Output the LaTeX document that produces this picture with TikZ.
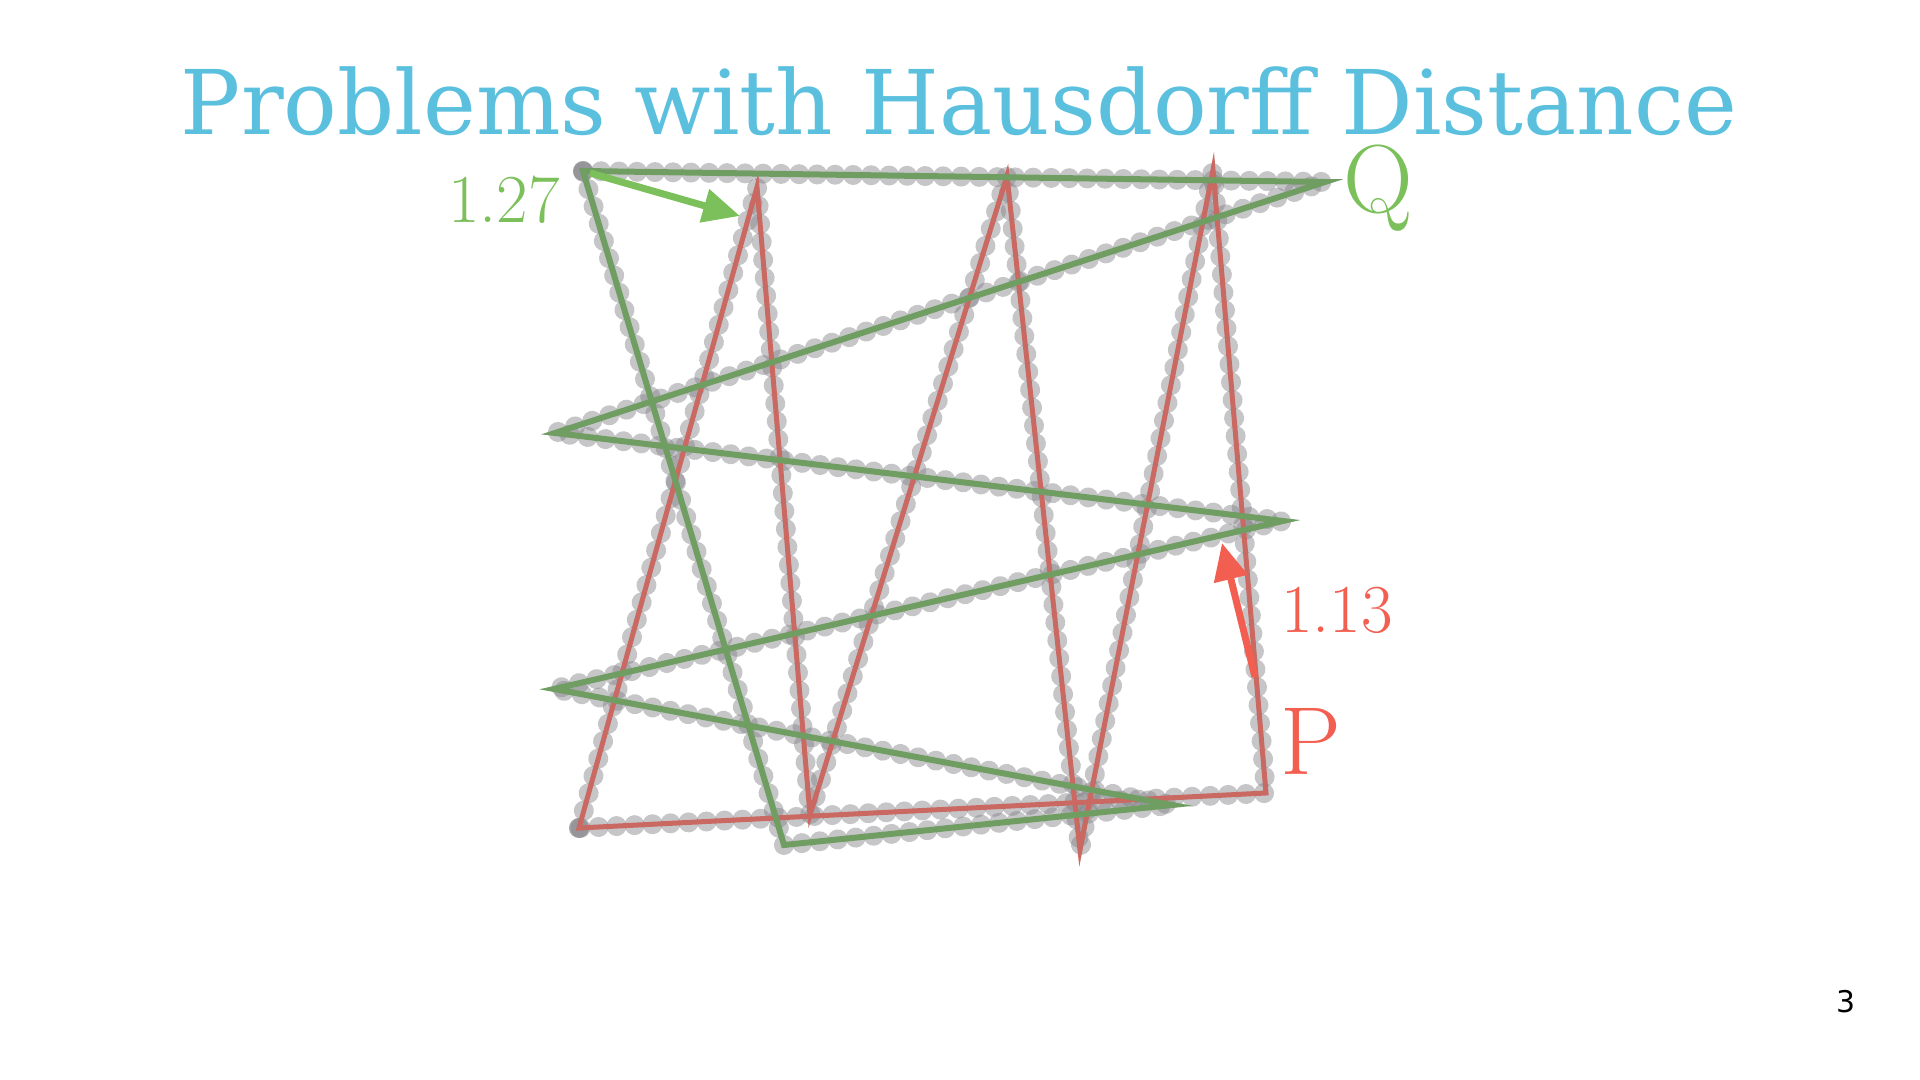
\documentclass[tikz,border=0pt]{standalone}
\usepackage{fontspec}
\newfontfamily\titlefont{DejaVu Serif}
\newfontfamily\pagefont{DejaVu Sans}
\usetikzlibrary{arrows.meta,decorations.markings}
\definecolor{titleblue}{RGB}{91,192,222}
\definecolor{labgreen}{RGB}{124,192,92}
\definecolor{labred}{RGB}{242,94,80}
\definecolor{linegreen}{RGB}{112,158,98}
\definecolor{linered}{RGB}{202,104,98}
\definecolor{dotgray}{RGB}{128,128,134}
\tikzset{
  dotted path/.style={postaction={decorate},
    decoration={markings, mark=between positions 0 and 1 step 0.18cm with {\fill[dotgray,opacity=0.45] (0,0) circle (0.1cm);}}},
  curveline/.style={line join=miter, miter limit=40},
  harrow/.style={line width=0.07cm, -{Triangle[length=0.37cm,width=0.33cm]}},
}
\begin{document}
\begin{tikzpicture}[x=0.01cm,y=-0.01cm]
\useasboundingbox (0,0) rectangle (1920,1080);
% Q vertices
\coordinate (G1) at (583,171);
\coordinate (G2) at (1325,182);
\coordinate (G3) at (555,433);
\coordinate (G4) at (1283,521);
\coordinate (G5) at (554,689);
\coordinate (G6) at (1172,805);
\coordinate (G7) at (784,845);
% P vertices
\coordinate (R1) at (579,828);
\coordinate (R2) at (757,187);
\coordinate (R3) at (810,815);
\coordinate (R4) at (1007,176);
\coordinate (R5) at (1080,850);
\coordinate (R6) at (1213,170);
\coordinate (R7) at (1266,793);
% dots
\path[dotted path] (G1) -- (G2) -- (G3) -- (G4) -- (G5) -- (G6) -- (G7) -- cycle;
\path[dotted path] (R1) -- (R2) -- (R3) -- (R4) -- (R5) -- (R6) -- (R7) -- cycle;
\fill[dotgray,opacity=0.45] (G1) circle (0.1cm);
\fill[dotgray,opacity=0.45] (R1) circle (0.1cm);
% lines
\draw[curveline, line width=0.05cm, linered] (R1) -- (R2) -- (R3) -- (R4) -- (R5) -- (R6) -- (R7) -- cycle;
\draw[curveline, line width=0.06cm, linegreen] (G1) -- (G2) -- (G3) -- (G4) -- (G5) -- (G6) -- (G7) -- cycle;
% arrows
\coordinate (ga0) at (590,173);
\coordinate (ga1) at (740,216);
\coordinate (ra0) at (1255,677);
\coordinate (ra1) at (1222,543);
\draw[harrow, labgreen] (ga0) -- (ga1);
\draw[harrow, labred] (ra0) -- (ra1);
% labels
\node[anchor=base, text=titleblue, inner sep=0] (title) at (959,135) {\resizebox{15.55cm}{!}{\titlefont Problems with Hausdorff Distance}};
\node[anchor=base, text=labgreen, inner sep=0, font=\fontsize{19.5}{20}\selectfont] (l127) at (504,223) {1.27};
\node[anchor=base, text=labgreen, inner sep=0, font=\fontsize{27.5}{28}\selectfont] (lq) at (1378,213) {Q};
\node[anchor=base, text=labred, inner sep=0, font=\fontsize{19.5}{20}\selectfont] (l113) at (1337,633) {1.13};
\node[anchor=base, text=labred, inner sep=0, font=\fontsize{27.5}{28}\selectfont] (lp) at (1311,775) {P};
\node[anchor=base, inner sep=0, font=\pagefont\fontsize{8.5}{10}\selectfont] (pg) at (1846,1013) {3};
\end{tikzpicture}
\end{document}
